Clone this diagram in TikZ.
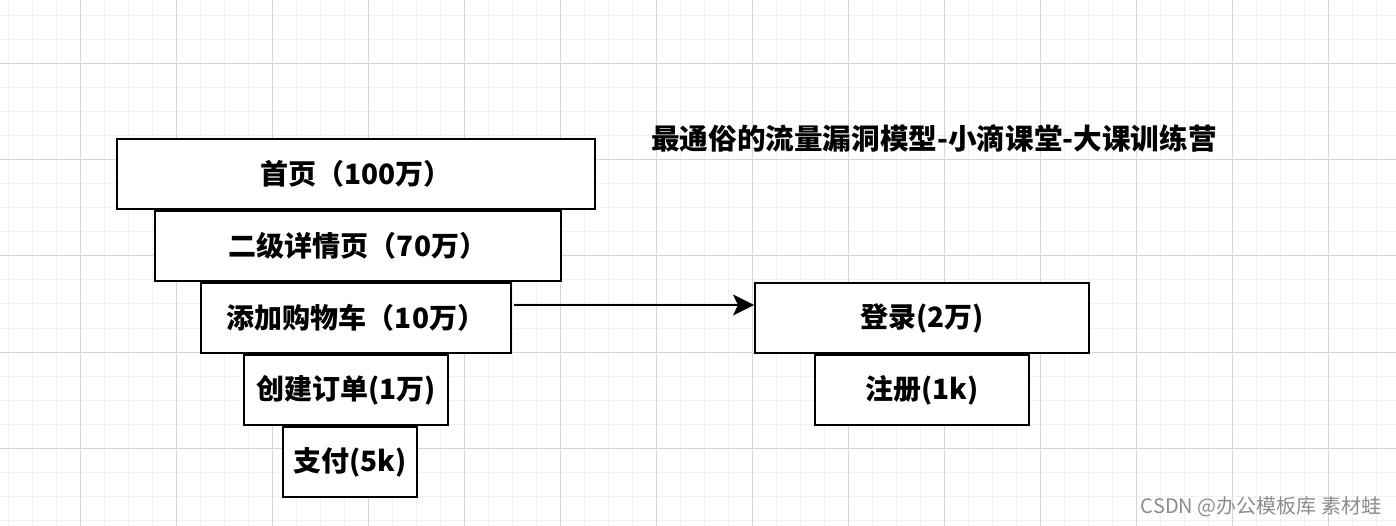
\documentclass[tikz,border=0pt]{standalone}
\usepackage{fontspec}
\setmainfont{Noto Sans CJK SC}
\usepackage{tikz}
\usetikzlibrary{arrows.meta}

\definecolor{gridminor}{HTML}{F1F1F1}
\definecolor{gridmajor}{HTML}{D6D6D6}

\begin{document}
\begin{tikzpicture}[x=1pt,y=-1pt,
                thick,funnel box/.style={rectangle,draw=black,line width=2pt,fill=white,
                    minimum height=70pt,inner sep=0pt,font=\fontsize{28pt}{32pt}\bfseries\selectfont},
                flow/.style={-{Stealth[length=21pt,width=21pt,inset=5pt]},line width=2pt,shorten <=2pt}]

            \useasboundingbox (0,0) rectangle (1396,526);
            \fill[white] (0,0) rectangle (1396,526);

            % grid paper
            \foreach \gx in {8,32,...,1392} \draw[gridminor,line width=1pt] (\gx,0) -- (\gx,526);
            \foreach \gy in {16,40,...,520} \draw[gridminor,line width=1pt] (0,\gy) -- (1396,\gy);
            \foreach \gx in {80,176,...,1328} \draw[gridmajor,line width=1pt] (\gx,0) -- (\gx,526);
            \foreach \gy in {64,160,...,448} \draw[gridmajor,line width=1pt] (0,\gy) -- (1396,\gy);

            \node[funnel box, minimum width=478pt] (home) at (356,174) {首页（100万）};
            \node[funnel box, minimum width=406pt] (detail) at (358,246) {二级详情页（70万）};
            \node[funnel box, minimum width=310pt] (cart) at (356,318) {添加购物车（10万）};
            \node[funnel box, minimum width=204pt] (order) at (346,390) {创建订单(1万)};
            \node[funnel box, minimum width=134pt] (pay) at (350,462) {支付(5k)};

            \node[funnel box, minimum width=334pt] (login) at (922,318) {登录(2万)};
            \node[funnel box, minimum width=214pt] (register) at (922,390) {注册(1k)};

            \node[font=\fontsize{28.6pt}{33pt}\bfseries\selectfont] (title) at (934,138) {最通俗的流量漏洞模型-小滴课堂-大课训练营};
            \node[text=black!45,font=\fontsize{20pt}{24pt}\selectfont] (mark) at (1261,507) {CSDN @办公模板库 素材蛙};

            \draw[flow] ([yshift=13pt]cart.east) -- ([yshift=13pt]login.west);

        \end{tikzpicture}
\end{document}
